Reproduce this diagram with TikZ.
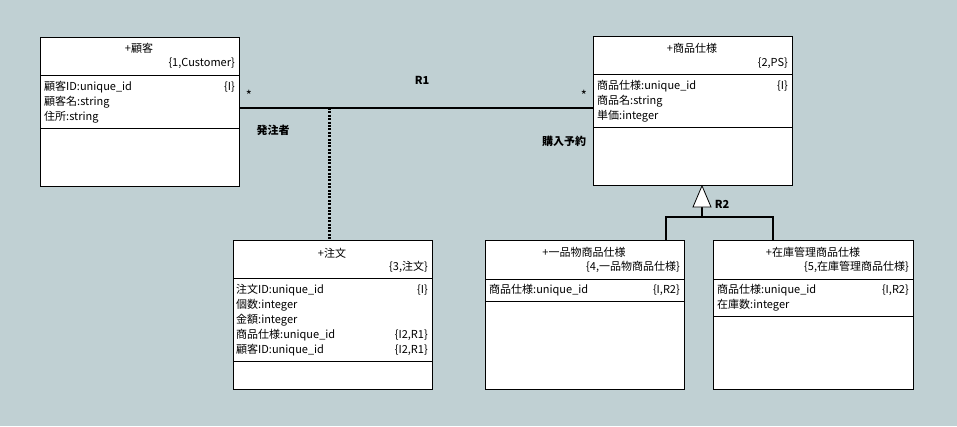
\documentclass[tikz,border=0pt]{standalone}
\usepackage{fontspec}
\setmainfont{Noto Sans CJK JP}
\definecolor{bg}{RGB}{192,208,211}
\tikzset{
  cls/.style={draw=black, fill=white, line width=0.8pt, anchor=north west, inner sep=0pt},
  txt/.style={inner sep=0pt, font=\fontsize{11}{13}\selectfont},
  lt/.style={txt, anchor=west},
  rt/.style={txt, anchor=east},
  ct/.style={txt, anchor=center},
  lbl/.style={inner sep=0pt, font=\fontsize{11}{13}\selectfont\bfseries},
  assoc/.style={line width=2.6pt},
  dep/.style={line width=3pt, dash pattern=on 2pt off 1.4pt},
  gen/.style={line width=2.6pt},
}
\begin{document}
\begin{tikzpicture}[x=1pt,y=-1pt]
\useasboundingbox[fill=bg] (0,0) rectangle (957,426);
% boxes
\node[cls, minimum width=199pt, minimum height=149pt] (cust) at (40,37) {};
\node[cls, minimum width=199pt, minimum height=149pt] (ps) at (593,36) {};
\node[cls, minimum width=199pt, minimum height=149pt] (ord) at (233,240) {};
\node[cls, minimum width=199pt, minimum height=149pt] (one) at (485,240) {};
\node[cls, minimum width=200pt, minimum height=149pt] (stk) at (713,240) {};
% dividers
\draw[line width=0.8pt] (cust.west |- 0,75) -- (cust.east |- 0,75);
\draw[line width=0.8pt] (cust.west |- 0,128) -- (cust.east |- 0,128);
\draw[line width=0.8pt] (ps.west |- 0,74) -- (ps.east |- 0,74);
\draw[line width=0.8pt] (ps.west |- 0,127) -- (ps.east |- 0,127);
\draw[line width=0.8pt] (ord.west |- 0,278) -- (ord.east |- 0,278);
\draw[line width=0.8pt] (ord.west |- 0,361) -- (ord.east |- 0,361);
\draw[line width=0.8pt] (one.west |- 0,279) -- (one.east |- 0,279);
\draw[line width=0.8pt] (one.west |- 0,301) -- (one.east |- 0,301);
\draw[line width=0.8pt] (stk.west |- 0,279) -- (stk.east |- 0,279);
\draw[line width=0.8pt] (stk.west |- 0,316) -- (stk.east |- 0,316);
% customer texts
\node[ct] (custT) at (139,48) {+顧客};
\node[rt] (custK) at (235,63) {\{1,Customer\}};
\node[lt] (custA1) at (44,87) {顧客ID:unique\_id};
\node[rt] (custA1k) at (235,87) {\{I\}};
\node[lt] (custA2) at (44,102) {顧客名:string};
\node[lt] (custA3) at (44,117) {住所:string};
% PS texts
\node[ct] (psT) at (692,48) {+商品仕様};
\node[rt] (psK) at (788,63) {\{2,PS\}};
\node[lt] (psA1) at (597,86) {商品仕様:unique\_id};
\node[rt] (psA1k) at (788,86) {\{I\}};
\node[lt] (psA2) at (597,101) {商品名:string};
\node[lt] (psA3) at (597,116) {単価:integer};
% order texts
\node[ct] (ordT) at (332,253) {+注文};
\node[rt] (ordK) at (428,267) {\{3,注文\}};
\node[lt] (ordA1) at (236,290) {注文ID:unique\_id};
\node[rt] (ordA1k) at (428,290) {\{I\}};
\node[lt] (ordA2) at (236,305) {個数:integer};
\node[lt] (ordA3) at (236,320) {金額:integer};
\node[lt] (ordA4) at (236,335) {商品仕様:unique\_id};
\node[rt] (ordA4k) at (428,335) {\{I2,R1\}};
\node[lt] (ordA5) at (236,350) {顧客ID:unique\_id};
\node[rt] (ordA5k) at (428,350) {\{I2,R1\}};
% one-off product
\node[ct] (oneT) at (584,252) {+一品物商品仕様};
\node[rt] (oneK) at (680,267) {\{4,一品物商品仕様\}};
\node[lt] (oneA1) at (489,290) {商品仕様:unique\_id};
\node[rt] (oneA1k) at (680,290) {\{I,R2\}};
% stock product
\node[ct] (stkT) at (813,252) {+在庫管理商品仕様};
\node[rt] (stkK) at (909,267) {\{5,在庫管理商品仕様\}};
\node[lt] (stkA1) at (717,290) {商品仕様:unique\_id};
\node[rt] (stkA1k) at (909,290) {\{I,R2\}};
\node[lt] (stkA2) at (717,305) {在庫数:integer};
% R1 association
\coordinate (r1a) at (cust.east |- 0,108);
\coordinate (r1b) at (ps.west |- 0,108);
\coordinate (r1m) at (329,108);
\draw[assoc] (r1a) -- (r1b);
\draw[dep] (r1m) -- (r1m |- ord.north);
\node[txt, font=\fontsize{13}{14}\selectfont] (star1) at (249,95) {*};
\node[txt, font=\fontsize{13}{14}\selectfont] (star2) at (584,95) {*};
\node[lbl] (r1) at (422,80) {R1};
\node[lbl] (role1) at (273,130) {発注者};
\node[lbl] (role2) at (564,141) {購入予約};
% R2 generalization
\coordinate (tip) at (ps.south -| 702,0);
\coordinate (tb) at (702,207);
\coordinate (hj) at (702,217);
\coordinate (hl) at (666,217);
\coordinate (hr) at (773,217);
\draw[gen] (tb) -- (hj);
\draw[gen] (hl |- one.north) -- (hl) -- (hr) -- (hr |- stk.north);
\draw[fill=white, line width=0.8pt] (tip) -- (693,207) -- (711,207) -- cycle;
\node[lbl] (r2) at (722,204) {R2};
\end{tikzpicture}
\end{document}
